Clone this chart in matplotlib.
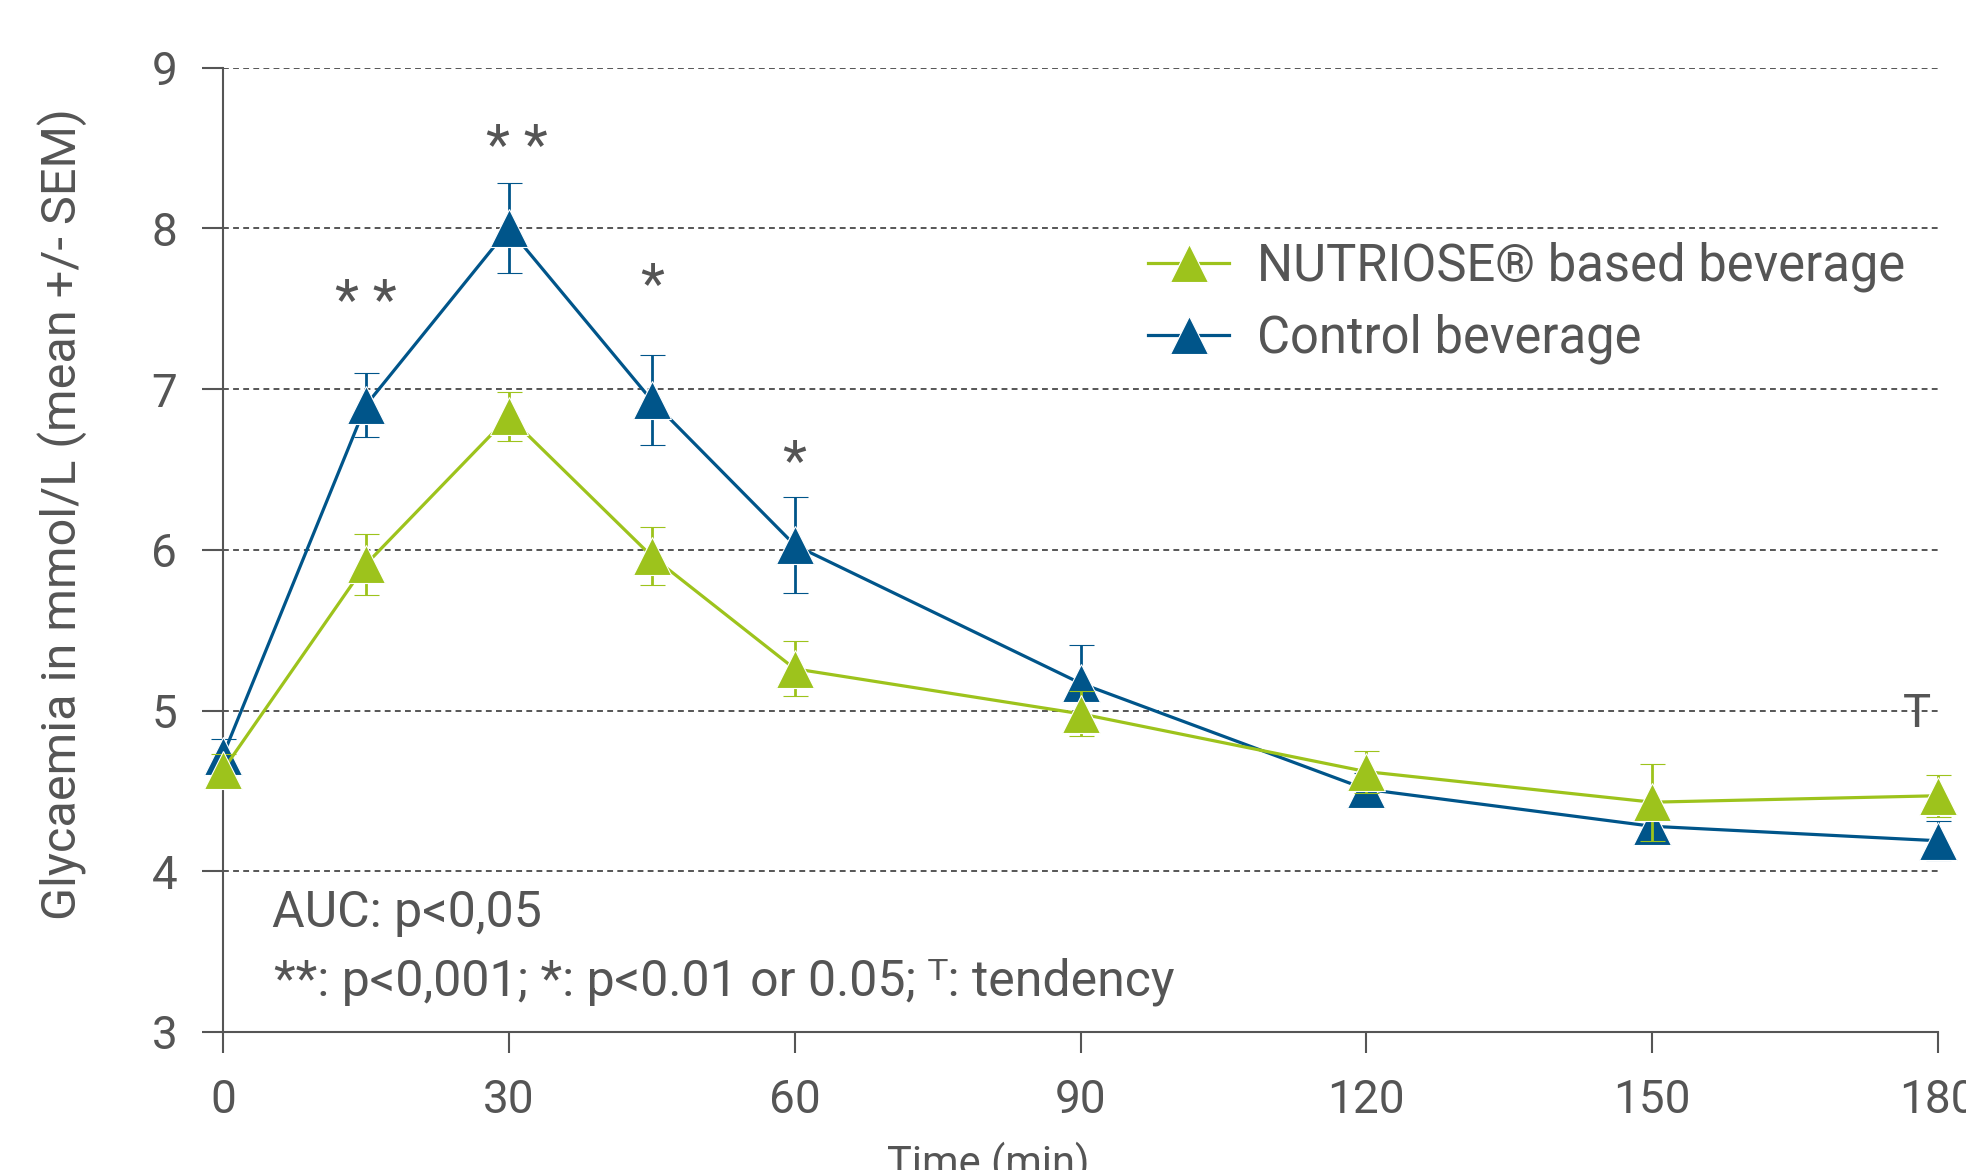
import matplotlib
matplotlib.use("Agg")
import matplotlib.pyplot as plt
from matplotlib.lines import Line2D

plt.rcParams['font.family'] = ['Roboto', 'DejaVu Sans']

time = [0, 15, 30, 45, 60, 90, 120, 150, 180]
nutriose = [4.63, 5.91, 6.83, 5.96, 5.26, 4.98, 4.62, 4.43, 4.47]
nutriose_sem = [0.10, 0.19, 0.15, 0.18, 0.17, 0.14, 0.13, 0.24, 0.13]
control = [4.72, 6.90, 8.00, 6.93, 6.03, 5.17, 4.51, 4.28, 4.19]
control_sem = [0.10, 0.20, 0.28, 0.28, 0.30, 0.24, 0.10, 0.10, 0.12]

xticks = [0, 30, 60, 90, 120, 150, 180]
yticks = [3, 4, 5, 6, 7, 8, 9]

sig_x = [15, 30.8, 45, 60, 177.8]
sig_y = [7.53, 8.50, 7.63, 6.53, 4.98]
sig_txt = ["* *", "* *", "*", "*", "T"]

GREEN = "#9DC31C"
BLUE = "#00558A"
GRAY = "#555555"

fig = plt.figure(figsize=(19.66, 11.70), dpi=100)
ax = fig.add_axes([0.11343, 0.11795, 0.87233, 0.82419])

for y, err, col, z in [(control, control_sem, BLUE, 3), (nutriose, nutriose_sem, GREEN, 4)]:
    ax.errorbar(time, y, yerr=err, color=col, lw=2.3, marker='^', ms=27,
                mfc=col, mec='white', mew=0.8, ecolor=col, elinewidth=2.0,
                capsize=9, capthick=2.2, clip_on=False, zorder=z)

ax.set_xlim(0, 180)
ax.set_ylim(3, 9)
ax.set_xticks(xticks)
ax.set_yticks(yticks)
ax.tick_params(axis='both', colors=GRAY, labelcolor=GRAY, labelsize=33,
               length=15, width=1.5, direction='out')
ax.tick_params(axis='x', pad=18)
ax.tick_params(axis='y', pad=18)
for s in ['top', 'right']:
    ax.spines[s].set_visible(False)
for s in ['left', 'bottom']:
    ax.spines[s].set_color(GRAY)
    ax.spines[s].set_linewidth(1.5)

ax.yaxis.grid(True, color=GRAY, lw=1.4, linestyle=(0, (3, 2.2)))
ax.set_axisbelow(True)

for x, y, t in zip(sig_x, sig_y, sig_txt):
    ax.text(x, y, t, ha='center', va='center', fontsize=40 if t != "T" else 34,
            color=GRAY)

fig.text(272 / 1966, 1 - 927 / 1170, "AUC: p<0,05", fontsize=36, color=GRAY,
         ha='left', va='baseline')
fig.text(274 / 1966, 1 - 995 / 1170, "**: p<0,001; *: p<0.01 or 0.05; ᵀ: tendency",
         fontsize=36, color=GRAY, ha='left', va='baseline')

fig.text(62 / 1966, 1 - 514 / 1170, "Glycaemia in mmol/L (mean +/- SEM)",
         rotation=90, ha='center', va='center', fontsize=35, color=GRAY)
fig.text(988 / 1966, 1 - 1142 / 1170, "Time (min)", ha='center', va='top',
         fontsize=30, color=GRAY)

handles = [Line2D([], [], color=GREEN, lw=2.3, marker='^', ms=27, mfc=GREEN, mec='white', mew=0.8),
           Line2D([], [], color=BLUE, lw=2.3, marker='^', ms=27, mfc=BLUE, mec='white', mew=0.8)]
labels = ["NUTRIOSE® based beverage", "Control beverage"]
leg = ax.legend(handles, labels, loc='upper left', bbox_to_anchor=(1148 / 1966, 1 - 242 / 1170),
                bbox_transform=fig.transFigure, frameon=False, fontsize=36.5,
                handlelength=1.6, handletextpad=0.55, labelspacing=0.42,
                numpoints=1, borderpad=0, borderaxespad=0)
for t in leg.get_texts():
    t.set_color(GRAY)

fig.savefig("out.png", dpi=100)
